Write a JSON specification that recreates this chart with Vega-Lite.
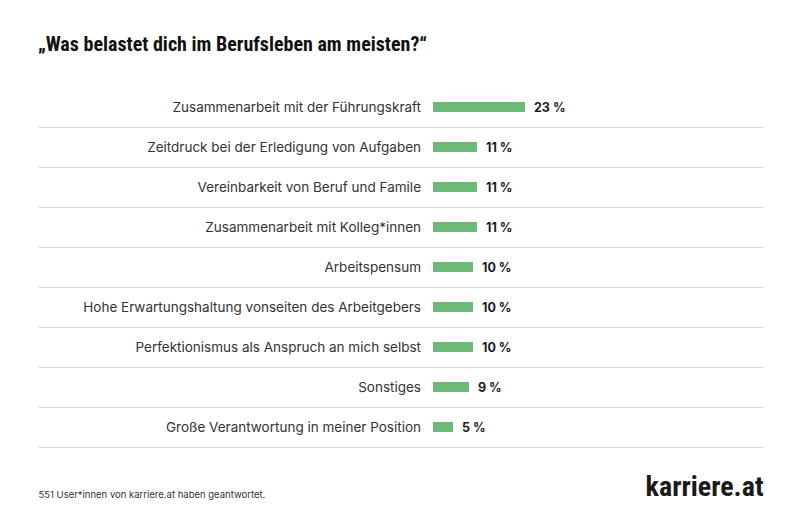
{
  "$schema": "https://vega.github.io/schema/vega-lite/v6.json",
  "width": 725,
  "height": 360,
  "autosize": {"type": "none"},
  "padding": {"left": 38, "top": 87, "right": 37, "bottom": 73},
  "background": "white",
  "title": {
    "text": "„Was belastet dich im Berufsleben am meisten?“",
    "anchor": "start",
    "frame": "group",
    "font": "Roboto Condensed, Liberation Sans Narrow, Roboto",
    "fontSize": 20,
    "fontWeight": "bold",
    "color": "#111111",
    "offset": 32
  },
  "config": {"view": {"stroke": null}, "font": "Inter"},
  "data": {
    "values": [
      {"kategorie": "Zusammenarbeit mit der Führungskraft", "anteil": 23},
      {"kategorie": "Zeitdruck bei der Erledigung von Aufgaben", "anteil": 11},
      {"kategorie": "Vereinbarkeit von Beruf und Famile", "anteil": 11},
      {"kategorie": "Zusammenarbeit mit Kolleg*innen", "anteil": 11},
      {"kategorie": "Arbeitspensum", "anteil": 10},
      {"kategorie": "Hohe Erwartungshaltung vonseiten des Arbeitgebers", "anteil": 10},
      {"kategorie": "Perfektionismus als Anspruch an mich selbst", "anteil": 10},
      {"kategorie": "Sonstiges", "anteil": 9},
      {"kategorie": "Große Verantwortung in meiner Position", "anteil": 5}
    ]
  },
  "transform": [{"calculate": "datum.anteil + ' %'", "as": "beschriftung"}],
  "encoding": {
    "y": {
      "field": "kategorie",
      "type": "nominal",
      "sort": null,
      "scale": {"paddingInner": 0, "paddingOuter": 0},
      "axis": {
        "labels": false,
        "ticks": false,
        "domain": false,
        "grid": true,
        "bandPosition": 1,
        "gridColor": "#dcd8d6",
        "gridWidth": 1,
        "title": "karriere.at",
        "titleAngle": 0,
        "titleAlign": "right",
        "titleBaseline": "middle",
        "titleX": 725,
        "titleY": 400,
        "titleFont": "Roboto Condensed, Liberation Sans Narrow, Roboto",
        "titleFontSize": 28,
        "titleFontWeight": "bold",
        "titleColor": "#1a1a1a"
      }
    }
  },
  "layer": [
    {
      "mark": {"type": "bar", "height": 10, "color": "#6cb876"},
      "encoding": {
        "x": {
          "field": "anteil",
          "type": "quantitative",
          "scale": {"domain": [-98.75, 82.5], "nice": false, "zero": false},
          "axis": {
            "labels": false,
            "ticks": false,
            "domain": false,
            "grid": false,
            "title": "551 User*innen von karriere.at haben geantwortet.",
            "titleAnchor": "start",
            "titleAlign": "left",
            "titleBaseline": "middle",
            "titleX": 0,
            "titleY": 47,
            "titleFont": "Inter",
            "titleFontSize": 9.5,
            "titleFontWeight": "normal",
            "titleColor": "#333333"
          }
        }
      }
    },
    {
      "mark": {"type": "text", "align": "right", "baseline": "middle", "dx": -12, "dy": 1, "fontSize": 13.5, "color": "#333333"},
      "encoding": {
        "x": {"datum": 0, "type": "quantitative"},
        "text": {"field": "kategorie"}
      }
    },
    {
      "mark": {"type": "text", "align": "left", "baseline": "middle", "dx": 9, "dy": 1, "fontSize": 12.5, "fontWeight": "bold", "color": "#1a1a1a"},
      "encoding": {
        "x": {"field": "anteil", "type": "quantitative"},
        "text": {"field": "beschriftung"}
      }
    }
  ]
}
